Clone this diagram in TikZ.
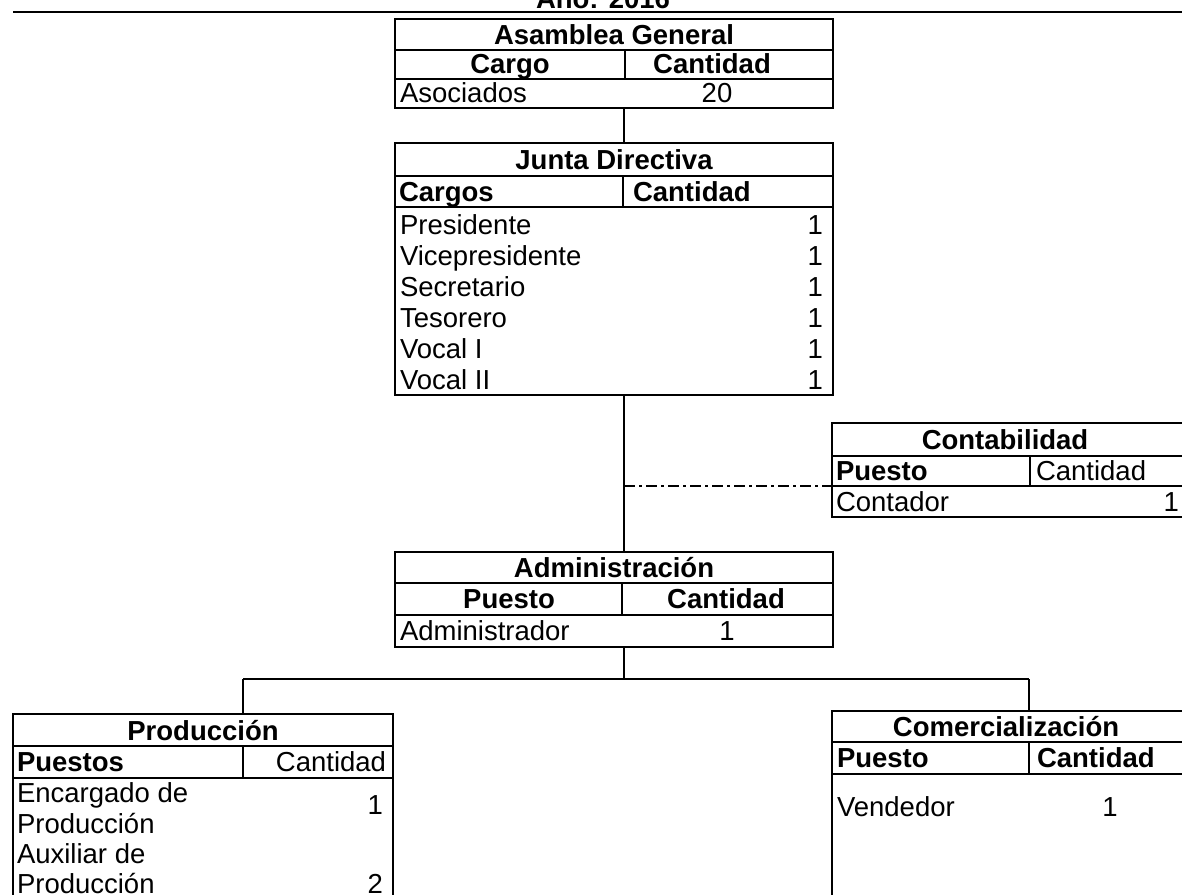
\documentclass[tikz,border=0pt]{standalone}
\usepackage{fontspec}
\setmainfont{Liberation Sans}
\usetikzlibrary{calc}
\begin{document}
\begin{tikzpicture}[x=1pt,y=-1pt,
  font=\fontsize{27.5}{32}\selectfont,
  tbl/.style={draw, line width=1.5pt, inner sep=0pt, outer sep=0pt, anchor=north west},
  rule/.style={line width=1.5pt},
  txt/.style={inner sep=0pt, outer sep=0pt},
  hd/.style={txt, font=\fontsize{27.5}{32}\selectfont\bfseries},
  link/.style={line width=1.5pt},
  dashdot/.style={line width=1.3pt, dash pattern=on 11pt off 4pt on 3pt off 4pt}]
\useasboundingbox (0,0) rectangle (1182,894);

% heading
\node[hd, anchor=base] (year) at (603,9) {Año: 2016};
\draw[rule] (13,12) -- (1182,12);

% spine coordinates
\coordinate (spine) at (624,0);
\coordinate (lft) at (243,0);
\coordinate (rgt) at (1029,0);

% ---------------- Asamblea General
\node[tbl, minimum width=438pt, minimum height=89pt] (asam) at (395,19) {};
\draw[rule] (395,50) -- (833,50);
\draw[rule] (395,79) -- (833,79);
\draw[rule] (625,50) -- (625,79);
\node[hd, anchor=base] (asamT) at (614,44) {Asamblea General};
\node[hd, anchor=base] (asamC1) at (510,73) {Cargo};
\node[hd, anchor=base] (asamC2) at (712,73) {Cantidad};
\node[txt, anchor=base west] (asamR1) at (400,102) {Asociados};
\node[txt, anchor=base] (asamQ1) at (717,102) {20};

% ---------------- Junta Directiva
\node[tbl, minimum width=438pt, minimum height=252pt] (junta) at (395,143) {};
\draw[rule] (395,176) -- (833,176);
\draw[rule] (395,207) -- (833,207);
\draw[rule] (623,176) -- (623,207);
\node[hd, anchor=base] (juntaT) at (614,169) {Junta Directiva};
\node[hd, anchor=base west] (juntaC1) at (399,201) {Cargos};
\node[hd, anchor=base west] (juntaC2) at (633,201) {Cantidad};
\node[txt, anchor=base west] (jr1) at (400,234) {Presidente};
\node[txt, anchor=base west] (jr2) at (400,265) {Vicepresidente};
\node[txt, anchor=base west] (jr3) at (400,296) {Secretario};
\node[txt, anchor=base west] (jr4) at (400,327) {Tesorero};
\node[txt, anchor=base west] (jr5) at (400,358) {Vocal I};
\node[txt, anchor=base west] (jr6) at (400,389) {Vocal II};
\node[txt, anchor=base east] (jq1) at (823,234) {1};
\node[txt, anchor=base east] (jq2) at (823,265) {1};
\node[txt, anchor=base east] (jq3) at (823,296) {1};
\node[txt, anchor=base east] (jq4) at (823,327) {1};
\node[txt, anchor=base east] (jq5) at (823,358) {1};
\node[txt, anchor=base east] (jq6) at (823,389) {1};

% ---------------- Contabilidad
\node[tbl, minimum width=370pt, minimum height=94pt] (conta) at (832,423) {};
\draw[rule] (832,456) -- (1202,456);
\draw[rule] (832,486) -- (1202,486);
\draw[rule] (1030,456) -- (1030,486);
\node[hd, anchor=base] (contaT) at (1005,449) {Contabilidad};
\node[hd, anchor=base west] (contaC1) at (836,480) {Puesto};
\node[txt, anchor=base west] (contaC2) at (1036,480) {Cantidad};
\node[txt, anchor=base west] (contaR1) at (836,511) {Contador};
\node[txt, anchor=base east] (contaQ1) at (1179,511) {1};

% ---------------- Administración
\node[tbl, minimum width=438pt, minimum height=95pt] (admin) at (395,552) {};
\draw[rule] (395,583) -- (833,583);
\draw[rule] (395,615) -- (833,615);
\draw[rule] (622,583) -- (622,615);
\node[hd, anchor=base] (adminT) at (614,577) {Administración};
\node[hd, anchor=base] (adminC1) at (509,608) {Puesto};
\node[hd, anchor=base] (adminC2) at (726,608) {Cantidad};
\node[txt, anchor=base west] (adminR1) at (400,640) {Administrador};
\node[txt, anchor=base] (adminQ1) at (727,640) {1};

% ---------------- Producción
\node[tbl, minimum width=380pt, minimum height=200pt] (prod) at (13,714) {};
\draw[rule] (13,746) -- (393,746);
\draw[rule] (13,778) -- (393,778);
\draw[rule] (243,746) -- (243,778);
\node[hd, anchor=base] (prodT) at (203,740) {Producción};
\node[hd, anchor=base west] (prodC1) at (17,771) {Puestos};
\node[txt, anchor=base east] (prodC2) at (386,771) {Cantidad};
\node[txt, anchor=base west] (prodR1a) at (17,802) {Encargado de};
\node[txt, anchor=base west] (prodR1b) at (17,833) {Producción};
\node[txt, anchor=base west] (prodR2a) at (17,863) {Auxiliar de};
\node[txt, anchor=base west] (prodR2b) at (17,893) {Producción};
\node[txt, anchor=base east] (prodQ1) at (383,814) {1};
\node[txt, anchor=base east] (prodQ2) at (383,893) {2};

% ---------------- Comercialización
\node[tbl, minimum width=370pt, minimum height=200pt] (comer) at (832,711) {};
\draw[rule] (832,742) -- (1202,742);
\draw[rule] (832,774) -- (1202,774);
\draw[rule] (1029,742) -- (1029,774);
\node[hd, anchor=base] (comerT) at (1006,736) {Comercialización};
\node[hd, anchor=base west] (comerC1) at (837,767) {Puesto};
\node[hd, anchor=base west] (comerC2) at (1037,767) {Cantidad};
\node[txt, anchor=base west] (comerR1) at (837,816) {Vendedor};
\node[txt, anchor=base] (comerQ1) at (1110,816) {1};

% ---------------- connectors
\draw[link] (asam.south -| spine) -- (junta.north -| spine);
\draw[link] (junta.south -| spine) -- (admin.north -| spine);
\coordinate (dd) at (624,486);
\draw[dashdot] (dd) -- (dd -| conta.west);
\coordinate (bus) at (624,679);
\draw[link] (admin.south -| spine) -- (bus);
\draw[link] (bus -| lft) -- (bus -| rgt);
\draw[link] (bus -| lft) -- (prod.north -| lft);
\draw[link] (bus -| rgt) -- (comer.north -| rgt);
\end{tikzpicture}
\end{document}
